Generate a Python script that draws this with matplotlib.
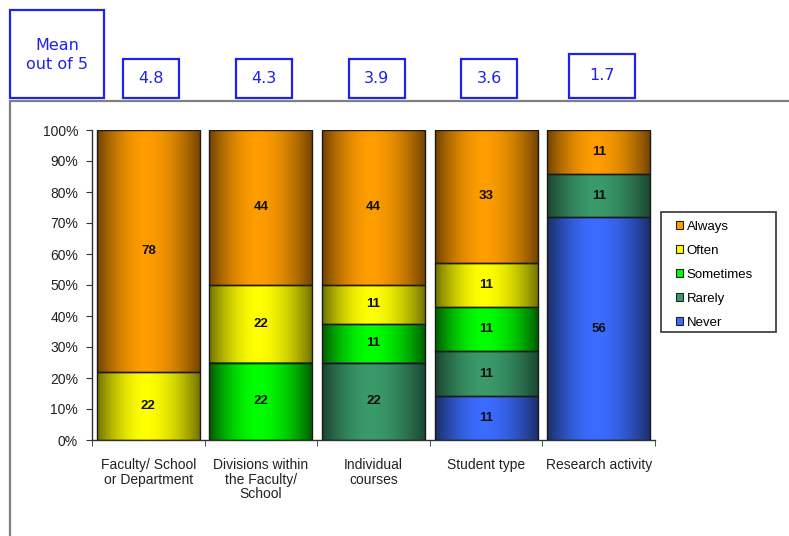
import numpy as np
import matplotlib
matplotlib.use('Agg')
import matplotlib.pyplot as plt
from matplotlib.colors import LinearSegmentedColormap
from matplotlib.patches import Rectangle, Patch
from matplotlib.ticker import FixedLocator, PercentFormatter

# data (counts shown on the segments)
categories = ['Faculty/ School\nor Department', 'Divisions within\nthe Faculty/\nSchool',
              'Individual\ncourses', 'Student type', 'Research activity']
series = ['Never', 'Rarely', 'Sometimes', 'Often', 'Always']   # bottom to top
never = [0, 0, 0, 11, 56]
rarely = [0, 0, 22, 11, 11]
sometimes = [0, 22, 11, 11, 0]
often = [22, 22, 11, 11, 0]
always = [78, 44, 44, 33, 11]
means = [4.8, 4.3, 3.9, 3.6, 1.7]

# (edge colour, centre colour) for the shaded bars
shades = {
    'Never': ('#1a2d66', '#3a6cff'),
    'Rarely': ('#1a4430', '#3a9a6a'),
    'Sometimes': ('#005a00', '#00ff00'),
    'Often': ('#707000', '#ffff00'),
    'Always': ('#704200', '#ff9d00'),
}

values = np.array([never, rarely, sometimes, often, always], dtype=float)
pct = values / values.sum(axis=0) * 100

W, H = 789, 536
fig = plt.figure(figsize=(W / 100, H / 100), dpi=100)
plt.rcParams['font.family'] = ['Liberation Sans', 'DejaVu Sans']

def fx(px):
    return px / W

def fy(py):
    return 1 - py / H

ax = fig.add_axes([fx(92), fy(440), fx(655) - fx(92), fy(130) - fy(440)])

# outer frame of the plot area
fig.patches.append(Rectangle((fx(10), fy(620)), fx(900), fy(101) - fy(620),
                             transform=fig.transFigure, fill=False,
                             edgecolor='#7f7f7f', lw=1.6, zorder=0))

x = np.arange(len(categories))
bw = 0.915
u = np.linspace(0, 1, 200)
c = 0.47
d = np.where(u < c, (c - u) / c, (u - c) / (1 - c))
prof = 1 - d ** 1.8
grad = prof[np.newaxis, :]

bottom = np.zeros(len(categories))
for i, name in enumerate(series):
    cmap = LinearSegmentedColormap.from_list(name, list(shades[name]))
    for j in range(len(categories)):
        h = pct[i, j]
        if h <= 0:
            continue
        b = bottom[j]
        ax.imshow(grad, extent=[x[j] - bw / 2, x[j] + bw / 2, b, b + h],
                  aspect='auto', cmap=cmap, vmin=0, vmax=1, zorder=2,
                  interpolation='bilinear')
        ax.add_patch(Rectangle((x[j] - bw / 2, b), bw, h, fill=False,
                               edgecolor='#1a1a1a', lw=1.0, zorder=3))
        ax.text(x[j], b + h / 2, '%d' % values[i, j], ha='center', va='center',
                fontsize=9.5, fontweight='bold', color='#111111', zorder=4)
    bottom += pct[i]

ax.set_xlim(-0.5, len(categories) - 0.5)
ax.set_ylim(0, 100)
ax.yaxis.set_major_locator(FixedLocator(np.arange(0, 101, 10)))
ax.yaxis.set_major_formatter(PercentFormatter(decimals=0))
ax.set_xticks(x)
ax.set_xticklabels(categories, fontsize=10, color='#222222', linespacing=1.05)
ax.xaxis.set_minor_locator(FixedLocator(np.arange(-0.5, len(categories), 1)))
ax.tick_params(axis='x', which='major', length=0, pad=13)
ax.tick_params(axis='x', which='minor', length=4, direction='out', color='#333333')
ax.tick_params(axis='y', length=4, direction='out', pad=6, labelsize=10,
               color='#333333', labelcolor='#222222')
for s in ['top', 'right']:
    ax.spines[s].set_visible(False)
for s in ['left', 'bottom']:
    ax.spines[s].set_color('#333333')
    ax.spines[s].set_linewidth(1.0)

# legend (frame drawn separately so it can be wider than the entries)
fig.patches.append(Rectangle((fx(661), fy(332)), fx(115), fy(212) - fy(332),
                             transform=fig.transFigure, fill=False,
                             edgecolor='#333333', lw=1.2))
handles = [Patch(facecolor=shades[n][1], edgecolor='#222222', lw=0.8) for n in reversed(series)]
leg = fig.legend(handles, list(reversed(series)), loc='upper left',
                 bbox_to_anchor=(fx(676), fy(221)), frameon=False,
                 fontsize=9.5, handlelength=0.55, handleheight=0.55, handletextpad=0.25,
                 labelspacing=0.9, borderpad=0.0, borderaxespad=0)

# mean boxes
blue = '#2020f0'
fig.patches.append(Rectangle((fx(10), fy(98)), fx(94), fy(10) - fy(98),
                             transform=fig.transFigure, fill=False,
                             edgecolor=blue, lw=1.6))
fig.text(fx(57), fy(55), 'Mean\nout of 5', ha='center', va='center', color=blue,
         fontsize=11.5, family='DejaVu Sans', linespacing=1.4)

box_w = [56, 56, 56, 56, 66]
box_h = [39, 39, 39, 39, 44]
for j, m in enumerate(means):
    cx_fig = fig.transFigure.inverted().transform(ax.transData.transform((x[j], 0)))[0]
    cx = cx_fig * W + 3
    fig.patches.append(Rectangle((fx(cx - box_w[j] / 2), fy(98)), fx(box_w[j]),
                                 fy(98 - box_h[j]) - fy(98),
                                 transform=fig.transFigure, fill=False,
                                 edgecolor=blue, lw=1.6))
    fig.text(fx(cx), fy(98 - box_h[j] / 2), '%.1f' % m, ha='center', va='center',
             color=blue, fontsize=11.5, family='DejaVu Sans')

fig.savefig('out.png', dpi=100)
